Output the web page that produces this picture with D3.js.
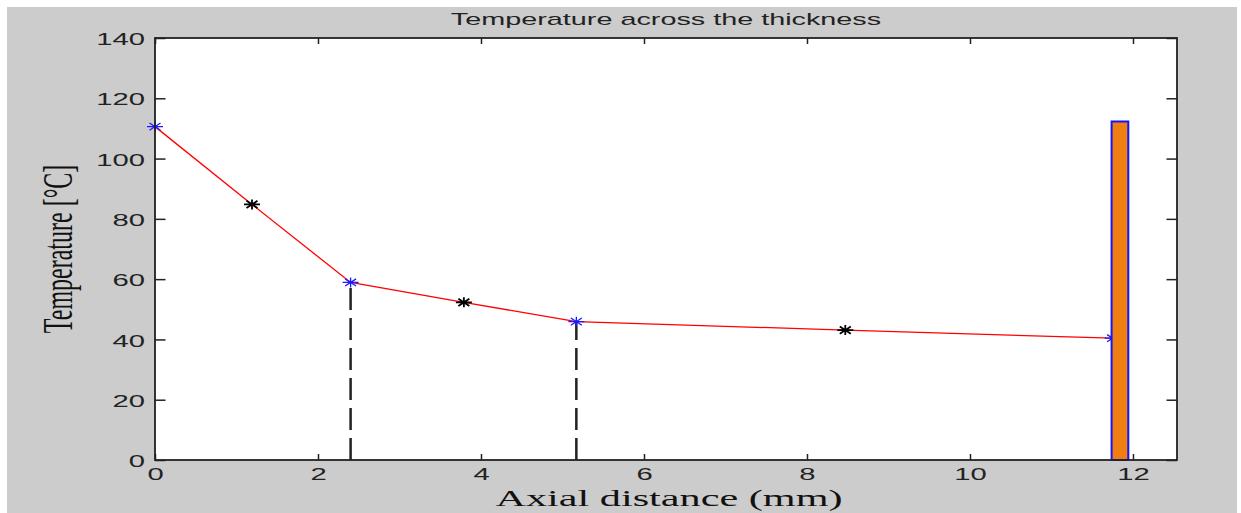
<!DOCTYPE html>
<html>
<head>
<meta charset="utf-8">
<script src="https://cdn.jsdelivr.net/npm/d3@7"></script>
<style>
  body { margin: 0; background: #fff; }
  svg { display: block; }
</style>
</head>
<body>
<svg id="chart" width="1241" height="513"></svg>
<script>
// Temperature profile through the wall thickness
const nodeX = [0, 1.19, 2.40, 3.79, 5.17, 8.47, 11.75];          // axial distance (mm)
const nodeT = [110.6, 84.8, 58.9, 52.3, 45.9, 43.1, 40.4];       // temperature (°C)
const nodeKind = ["layer", "mid", "layer", "mid", "layer", "mid", "layer"];

// layer interfaces marked with dashed drop lines
const interfaceX = [2.40, 5.17];
const interfaceT = [58.9, 45.9];

// surface temperature bar
const barX = [11.84];
const barT = [112.3];
const barWidth = 0.205;

const xTicks = [0, 2, 4, 6, 8, 10, 12];
const yTicks = [0, 20, 40, 60, 80, 100, 120, 140];

const svg = d3.select("#chart");
const W = 1241, H = 513;
const plot = { left: 155, right: 1177, top: 38, bottom: 460 };
const stretch = 1.72;   // horizontal glyph stretch of the figure text

const x = d3.scaleLinear().domain([0, 12.54]).range([plot.left, plot.right]);
const y = d3.scaleLinear().domain([0, 140]).range([plot.bottom, plot.top]);

// figure background
svg.append("rect").attr("x", 0).attr("y", 0).attr("width", W).attr("height", H).attr("fill", "#ffffff");
svg.append("rect").attr("x", 7).attr("y", 7).attr("width", 1230).attr("height", H - 7).attr("fill", "#cccccc");

// plot area
svg.append("rect")
  .attr("x", plot.left).attr("y", plot.top)
  .attr("width", plot.right - plot.left).attr("height", plot.bottom - plot.top)
  .attr("fill", "#ffffff");

// dashed drop lines at the interfaces, drawn from the axis upward
svg.append("g").selectAll("line")
  .data(interfaceX)
  .join("line")
  .attr("x1", d => x(d)).attr("x2", d => x(d))
  .attr("y1", y(0)).attr("y2", (d, i) => y(interfaceT[i]))
  .attr("stroke", "#222").attr("stroke-width", 2.5)
  .attr("stroke-dasharray", "22,8");

// profile line
const pts = nodeX.map((d, i) => [d, nodeT[i]]);
svg.append("path")
  .datum(pts)
  .attr("d", d3.line().x(d => x(d[0])).y(d => y(d[1])))
  .attr("fill", "none").attr("stroke", "#ff0000").attr("stroke-width", 1.3);

// asterisk markers
const star = "M-8,0H8M0,-5V5M-5.5,-3.6L5.5,3.6M-5.5,3.6L5.5,-3.6";
svg.append("g").selectAll("path")
  .data(pts)
  .join("path")
  .attr("d", star)
  .attr("transform", d => `translate(${x(d[0])},${y(d[1])})`)
  .attr("fill", "none")
  .attr("stroke", (d, i) => nodeKind[i] === "layer" ? "#1a1aff" : "#000")
  .attr("stroke-width", (d, i) => nodeKind[i] === "layer" ? 1.3 : 1.8);

// surface bar
svg.append("g").selectAll("rect")
  .data(barX)
  .join("rect")
  .attr("x", d => x(d - barWidth / 2))
  .attr("width", x(barWidth) - x(0))
  .attr("y", (d, i) => y(barT[i]))
  .attr("height", (d, i) => y(0) - y(barT[i]))
  .attr("fill", "#ef7f12")
  .attr("stroke", "#1414ff").attr("stroke-width", 2);

// axes with inward ticks
const labelFont = "'Liberation Sans', Arial, sans-serif";

const gBottom = svg.append("g").attr("transform", `translate(0,${plot.bottom})`)
  .call(d3.axisBottom(x).tickValues(xTicks).tickSizeInner(-6).tickSizeOuter(0).tickFormat(d3.format("d")));
const gTop = svg.append("g").attr("transform", `translate(0,${plot.top})`)
  .call(d3.axisTop(x).tickValues(xTicks).tickSizeInner(-6).tickSizeOuter(0).tickFormat(""));
const gLeft = svg.append("g").attr("transform", `translate(${plot.left},0)`)
  .call(d3.axisLeft(y).tickValues(yTicks).tickSizeInner(-10.5).tickSizeOuter(0).tickFormat(d3.format("d")));
const gRight = svg.append("g").attr("transform", `translate(${plot.right},0)`)
  .call(d3.axisRight(y).tickValues(yTicks).tickSizeInner(-10.5).tickSizeOuter(0).tickFormat(""));

[gBottom, gTop, gLeft, gRight].forEach(g => {
  g.select(".domain").remove();
  g.selectAll(".tick line").attr("stroke", "#222").attr("stroke-width", 1.5);
});

gBottom.selectAll(".tick text")
  .attr("x", null).attr("y", null).attr("dy", null)
  .attr("transform", `translate(0,19.5) scale(${stretch},1)`)
  .attr("text-anchor", "middle")
  .attr("font-family", labelFont).attr("font-size", 17).attr("fill", "#222");

gLeft.selectAll(".tick text")
  .attr("x", null).attr("y", null).attr("dy", null)
  .attr("transform", `translate(-10,6.6) scale(${stretch},1)`)
  .attr("text-anchor", "end")
  .attr("font-family", labelFont).attr("font-size", 17).attr("fill", "#222");

// axes box
svg.append("rect")
  .attr("x", plot.left).attr("y", plot.top)
  .attr("width", plot.right - plot.left).attr("height", plot.bottom - plot.top)
  .attr("fill", "none").attr("stroke", "#222").attr("stroke-width", 1.8);

// title
svg.append("text")
  .attr("transform", `translate(${(plot.left + plot.right) / 2},25) scale(1.8,1)`)
  .attr("text-anchor", "middle")
  .attr("font-family", labelFont).attr("font-size", 16).attr("fill", "#222")
  .text("Temperature across the thickness");

// axis titles
svg.append("text")
  .attr("transform", `translate(669,506) scale(1.76,1)`)
  .attr("text-anchor", "middle")
  .attr("font-family", "'Liberation Serif', 'Times New Roman', serif").attr("font-size", 24).attr("fill", "#111")
  .text("Axial distance (mm)");

svg.append("text")
  .attr("transform", `translate(72,${(plot.top + plot.bottom) / 2}) scale(1.76,1) rotate(-90)`)
  .attr("text-anchor", "middle")
  .attr("font-family", "'Liberation Serif', 'Times New Roman', serif").attr("font-size", 24).attr("fill", "#111")
  .text("Temperature [°C]");
</script>
</body>
</html>
